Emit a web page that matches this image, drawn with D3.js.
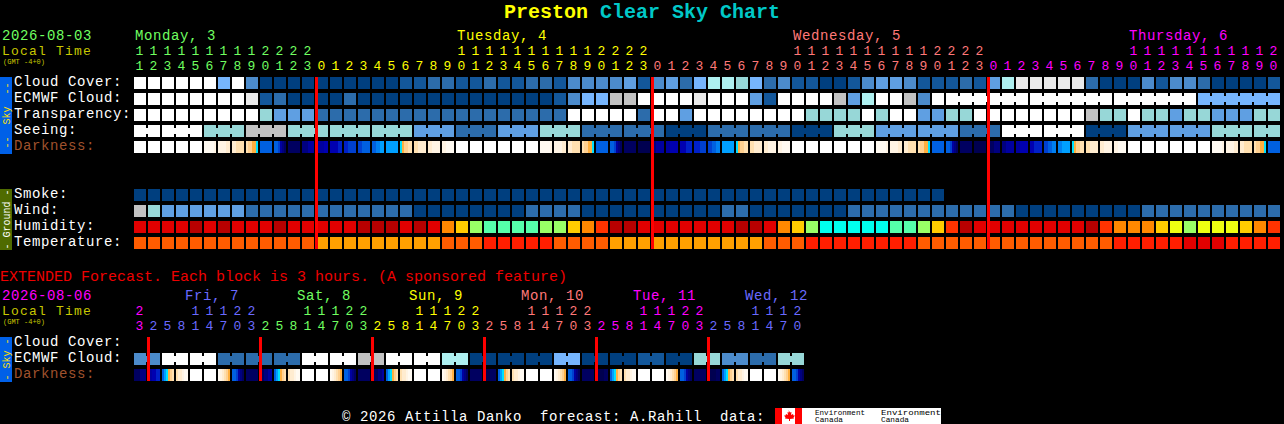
<!DOCTYPE html>
<html><head><meta charset="utf-8">
<script src="https://cdn.jsdelivr.net/npm/d3@7"></script>
<style>
html,body{margin:0;padding:0;background:#000;overflow:hidden}
svg{display:block}
text{font-family:"Liberation Mono",monospace;white-space:pre}
rect,.cell{shape-rendering:crispEdges}
</style></head><body>
<div id="chart"></div>
<script>
// ---------- hours shown on the hour axes ----------
const hoursMain = [11,12,13,14,15,16,17,18,19,20,21,22,23,
 0,1,2,3,4,5,6,7,8,9,10,11,12,13,14,15,16,17,18,19,20,21,22,23,
 0,1,2,3,4,5,6,7,8,9,10,11,12,13,14,15,16,17,18,19,20,21,22,23,
 0,1,2,3,4,5,6,7,8,9,10,11,12,13,14,15,16,17,18,19,20];
const dayMain = [0,0,0,0,0,0,0,0,0,0,0,0,0,
 1,1,1,1,1,1,1,1,1,1,1,1,1,1,1,1,1,1,1,1,1,1,1,1,
 2,2,2,2,2,2,2,2,2,2,2,2,2,2,2,2,2,2,2,2,2,2,2,2,
 3,3,3,3,3,3,3,3,3,3,3,3,3,3,3,3,3,3,3,3,3];
const hoursExt = [23, 2,5,8,11,14,17,20,23, 2,5,8,11,14,17,20,23, 2,5,8,11,14,17,20,23,
 2,5,8,11,14,17,20,23, 2,5,8,11,14,17,20,23, 2,5,8,11,14,17,20];
const dayExt = [3, 4,4,4,4,4,4,4,4, 0,0,0,0,0,0,0,0, 1,1,1,1,1,1,1,1,
 2,2,2,2,2,2,2,2, 3,3,3,3,3,3,3,3, 4,4,4,4,4,4,4];
const dayColors = ["#70ff60","#ffff00","#ff7878","#ff00ff","#6a6aff"];
const dayHeadMain = [["Monday, 3",0,0],["Tuesday, 4",23,1],["Wednesday, 5",47,2],["Thursday, 6",71,3]];
const dayHeadExt = [["Fri, 7",4,4],["Sat, 8",12,0],["Sun, 9",20,1],["Mon, 10",28,2],["Tue, 11",36,3],["Wed, 12",44,4]];
const midnightMain = [13,37,61];
const midnightExt = [1,9,17,25,33,41];

// ---------- sky levels: 0 = clear / best ... 10 = overcast / worst ----------
const skyColors = ["#003f7f","#13579a","#2c6cab","#4c8bcb","#5f9fe2","#76b5fd","#97d7d7","#aef0f0","#c2c2c2","#eaeaea","#ffffff"];

const cloudCover = [10,10,10,10,10,10,5,10,3,0,0,0,0,0,0,0,0,0,0,1,1,
 2,2,1,1,2,1,1,2,2,1,3,3,3,3,4,1,3,4,2,5,7,7,6,5,2,3,1,1,0,0,1,
 3,4,4,3,1,1,1,2,1,4,7,9,9,9,9,9,2,0,0,0,3,1,3,3,2,0,0,0,0,1];
const ecmwfCloud = [10,10,10,10,10,10,10,10,9,1,2,0,0,0,0,2,0,0,0,0,0,
 0,0,0,0,0,0,0,0,0,1,3,5,5,8,8,10,10,10,10,9,10,10,10,4,1,10,10,10,10,8,4,
 7,10,10,8,3,10,10,10,10,10,10,10,10,10,10,10,10,10,10,10,10,10,10,10,5,5,5,5,5,5];
const ecmwfSpans = [1,1,1,1,1,1,1,1,1,1,1,1,1,1,1,1,1,1,1,1,1,
 1,1,1,1,1,1,1,1,1,1,1,1,1,1,1,1,1,1,1,1,1,1,1,1,1,1,1,1,1,1,1,
 1,1,1,1,1,1,6,6,6,6];
const transparency = [10,10,10,10,10,10,10,10,10,6,4,4,4,2,2,2,2,2,2,2,2,
 2,2,2,2,2,2,2,2,2,2,10,10,10,10,10,2,10,10,4,10,10,10,10,10,10,10,10,6,6,6,6,
 10,6,10,10,4,4,6,6,10,10,10,10,10,10,10,10,8,6,6,10,6,6,4,6,6,4,4,4,6,6];
const seeing = [10,10,10,10,10,6,6,6,8,8,8,6,6,6,6,6,6,6,6,6,4,
 4,4,2,2,2,4,4,4,6,6,6,2,2,2,2,2,2,0,0,0,2,2,2,2,2,2,0,0,0,6,6,
 6,4,4,4,4,4,4,2,2,2,10,10,10,10,10,10,0,0,0,4,4,4,4,4,4,6,6,6,6,6];
const seeingSpans = [2,3,3,3,3,3,3,3,3,3,3,3,3,3,3,3,3,3,3,3,3,3,3,3,3,3,3,2];

const darknessColors = {w:"#ffffff",a:"#fffaf2",b:"#fff4e4",c:"#ffecd0",d:"#ffe0b0",e:"#ffd090",f:"#ffb040",
 g:"#00e0ff",h:"#00a0ff",i:"#0080f0",j:"#0060e0",k:"#0040d0",l:"#0020c8",m:"#0000b0",n:"#0000a0",
 o:"#000080",p:"#000060",q:"#000050"};
const W = "wwwwww";
const darkness = [W,W,W,W,W,"aaaaab","bbbbcc","ccdddd","deeffg","jjjjjj","jjknop","pppppp","ooonnn",
 "nnnnmm","mmmmll","llkkkk","kkjjjj","jjiihh","hhhhhh","gfeedd","ddcccc","ccbbbb","bbaaaa",W,W,W,W,W,W,
 "aaaaab","bbbbcc","ccdddd","deeffg","jjjjjj","jjknop","pppppp","qqqqqq",
 "oonnnn","nnmmmm","mmmlll","lllkkk","kkjjii","hhhhhh","gfeedd","ddcccc","ccbbbb","bbaaaa",W,W,W,W,W,W,
 "aaaaab","bbbbcc","ccdddd","deeffg","jjjjjj","jjknop","pppppp","qqqqqq",
 "pppooo","oonnnn","nnmmmm","mmllll","kkjjii","iihhhh","gfeedd","ddcccc","ccbbbb","bbaaaa",W,W,W,W,W,W,
 "aaaaab","bbbbcc","ccdddd","deeffg","jjjjjj"];

const smoke = [0,0,0,0,0,0,0,0,0,0,0,0,0,0,0,0,0,0,0,0,0,0,0,0,0,0,0,0,0,
 0,0,0,0,0,0,0,0,0,0,0,0,0,0,0,0,0,0,0,0,0,0,0,0,0,0,0,0,0];
const wind = [8,6,4,4,4,4,4,4,2,2,2,2,2,2,2,2,2,2,2,2,0,
 0,0,0,0,0,0,0,2,2,2,2,0,0,0,0,0,0,0,0,0,0,2,2,0,0,0,0,0,0,0,2,
 2,2,2,2,2,2,2,2,2,2,2,0,0,0,0,0,0,0,0,0,2,2,2,2,2,2,2,2,2,2];

const humidityColors = {K:"#b80000",R:"#e20000",T:"#ff3300",O:"#ff8800",Y:"#ffcc00",L:"#eeff11",G:"#99ff66",S:"#55ffaa",C:"#00ffee"};
const humidity = ["R","R","R","R","K","R","K","R","R","R","K","R","R","R","R","R","K","K","K","R","K",
 "R","O","Y","G","S","S","S","S","G","G","Y","O","T","K","K","R","R","R","R","R","R","R","K","K","R","O","Y","G","C","C","C",
 "C","C","S","S","G","Y","T","K","R","R","R","R","R","R","R","R","K","T","O","O","O","Y","L","G","L","L","L","Y","O","T"];
const temperatureColors = {A:"#ffa000",F:"#ff5c00",H:"#ff1e00",R:"#e20000"};
const temperature = ["F","F","F","F","F","F","F","F","F","F","F","F","F","A","A","A","A","A","A","A","A",
 "A","F","F","F","H","H","H","H","H","F","F","F","F","A","A","A","A","A","A","A","A","A","A","A","F","F","F","H","H","H","H",
 "H","H","H","H","F","F","F","F","F","F","F","F","F","F","F","F","F","F","H","H","H","H","H","R","R","R","H","H","H","H"];

const ecmwfExt = [3,3,10,10,10,10,2,2,2,2,2,2,10,10,10,10,8,8,10,10,10,10,7,7,
 0,0,0,0,0,0,5,5,0,0,0,0,1,1,0,0,6,6,3,3,2,2,6,6];
const ecmwfExtSpans = [2,2,2,2,2,2,2,2,2,2,2,2,2,2,2,2,2,2,2,2,2,2,2,2];
const J="jhgfed", D="dccbaa", O="abcdef", B="jjknop", N="pppppp";
const darknessExt = ["pppooo","nnmmll",J,D,W,W,O,B,N,"ppoonn",J,D,W,W,O,B,N,"qppoon",J,D,W,W,O,B,
 N,"qqqppp",J,D,W,W,O,B,N,"qqqqpp",J,D,W,W,O,B,N,"qqqqpp",J,D,W,W,O,B];

const skyRows = ["Cloud Cover:","ECMWF Cloud:","Transparency:","Seeing:","Darkness:"];
const groundRows = ["Smoke:","Wind:","Humidity:","Temperature:"];
const extRows = ["Cloud Cover:","ECMWF Cloud:","Darkness:"];

// ---------- scales ----------
const x = d3.scaleBand().domain(d3.range(hoursMain.length)).range([134,1280]).paddingInner(2/14);
const xe = d3.scaleBand().domain(d3.range(hoursExt.length)).range([134,804]).paddingInner(2/14);
const ySky = d3.scaleBand().domain(skyRows).range([77,153]).paddingInner(4/16);
const yGround = d3.scaleBand().domain(groundRows).range([189,249]).paddingInner(4/16);
const yExt = d3.scaleBand().domain(extRows).range([337,381]).paddingInner(4/16);
const sky = d3.scaleOrdinal().domain(d3.range(11)).range(skyColors);

const svg = d3.select("#chart").append("svg").attr("width",1284).attr("height",424).style("background","#000");

function txt(s,px,py,fill,size,extra){
  const t = svg.append("text").attr("x",px).attr("y",py).attr("fill",fill).attr("font-size",size||15).text(s);
  if(extra) extra(t);
  return t;
}
function row(vals,xs,y,cy,color){
  svg.append("g").attr("class","cell").selectAll("rect").data(vals).join("rect")
    .attr("x",(d,i)=>xs(i)).attr("y",y(cy)).attr("width",xs.bandwidth()).attr("height",y.bandwidth())
    .attr("fill",color);
}
function bridges(vals,spans,xs,y,cy,color){
  const pairs=[]; let start=0;
  spans.forEach(s=>{ for(let k=start;k<start+s-1;k++) pairs.push(k); start+=s; });
  svg.append("g").attr("class","cell").selectAll("rect").data(pairs).join("rect")
    .attr("x",k=>xs(k)+xs.bandwidth()).attr("y",y(cy)+3)
    .attr("width",xs.step()-xs.bandwidth()).attr("height",y.bandwidth()-6)
    .attr("fill",k=>color(vals[k]));
}
function strips(vals,xs,y,cy){
  const g = svg.append("g").attr("class","cell").selectAll("g").data(vals).join("g");
  const sub = d3.scaleBand().domain(d3.range(6)).range([0,xs.bandwidth()]);
  g.each(function(d,i){
    d3.select(this).selectAll("rect").data(d.split("")).join("rect")
      .attr("x",(c,j)=>xs(i)+sub(j)).attr("y",y(cy)).attr("width",sub.bandwidth()).attr("height",y.bandwidth())
      .attr("fill",c=>darknessColors[c]);
  });
}
function hourAxis(xs,hours,days,yTens,yUnits){
  const units = d3.axisTop(xs).tickSize(0).tickPadding(0).offset(0).tickFormat(i=>String(hours[i]%10));
  const tens = d3.axisTop(xs).tickSize(0).tickPadding(0).offset(0)
    .tickValues(xs.domain().filter(i=>hours[i]>=10)).tickFormat(i=>String(Math.floor(hours[i]/10)));
  [[units,yUnits],[tens,yTens]].forEach(([a,yy])=>{
    const g = svg.append("g").attr("transform",`translate(-0.5,${yy})`).call(a);
    g.select(".domain").remove();
    g.attr("font-family",null).attr("font-size",null);
    g.selectAll("text").attr("y",0).attr("dy",0).attr("font-size",13).attr("text-anchor","middle")
      .attr("fill",i=>dayColors[days[i]]);
  });
}
function sideBar(y0,y1,fill,label,color){
  svg.append("rect").attr("x",0).attr("y",y0).attr("width",12).attr("height",y1-y0).attr("fill",fill);
  const m=(y0+y1)/2;
  svg.append("text").attr("transform",`translate(9.5,${m}) rotate(-90)`).attr("text-anchor","middle")
    .attr("font-size",10).attr("fill",color).text(label);
}

// ---------- title ----------
txt("Preston",504,18,"#ffff00",20).attr("font-weight","bold");
txt("Clear Sky Chart",600,18,"#00c8c8",20).attr("font-weight","bold");

// ---------- main header ----------
txt("2026-08-03",2,40,dayColors[0],14).attr("letter-spacing",0.6);
txt("Local Time",2,55,"#c8c800",13).attr("letter-spacing",1.2);
txt("(GMT -4+0)",3,64,"#c8c800",7);
dayHeadMain.forEach(([s,i,c])=>txt(s,x(i)+1,40,dayColors[c],14).attr("letter-spacing",0.6));
hourAxis(x,hoursMain,dayMain,55,70);

// ---------- main rows ----------
sideBar(77,154,"#0060e8","--  Sky  --","#ffe000");
sideBar(189,250,"#4f6b00","- Ground -","#ffffff");
skyRows.forEach(l=>txt(l,14,ySky(l)+9,l==="Darkness:"?"#a0522d":"#ffffff",14).attr("letter-spacing",0.6));
groundRows.forEach(l=>txt(l,14,yGround(l)+9,"#ffffff",14).attr("letter-spacing",0.6));

row(cloudCover,x,ySky,"Cloud Cover:",sky);
row(ecmwfCloud,x,ySky,"ECMWF Cloud:",sky);
bridges(ecmwfCloud,ecmwfSpans,x,ySky,"ECMWF Cloud:",sky);
row(transparency,x,ySky,"Transparency:",sky);
row(seeing,x,ySky,"Seeing:",sky);
bridges(seeing,seeingSpans,x,ySky,"Seeing:",sky);
strips(darkness,x,ySky,"Darkness:");
row(smoke,x,yGround,"Smoke:",sky);
row(wind,x,yGround,"Wind:",sky);
row(humidity,x,yGround,"Humidity:",d=>humidityColors[d]);
row(temperature,x,yGround,"Temperature:",d=>temperatureColors[d]);

svg.append("g").selectAll("rect").data(midnightMain).join("rect")
  .attr("x",i=>Math.round(x(i))-1).attr("y",77).attr("width",3).attr("height",172).attr("fill","#ff0000");

// ---------- extended ----------
txt("EXTENDED Forecast. Each block is 3 hours. (A sponsored feature)",0,281,"#ee0000",15);
txt("2026-08-06",2,300,dayColors[3],14).attr("letter-spacing",0.6);
txt("Local Time",2,315,"#c8c800",13).attr("letter-spacing",1.2);
txt("(GMT -4+0)",3,324,"#c8c800",7);
dayHeadExt.forEach(([s,i,c])=>txt(s,xe(i)-5,300,dayColors[c],14).attr("letter-spacing",0.6));
hourAxis(xe,hoursExt,dayExt,315,330);
sideBar(337,382,"#0060e8","- Sky -","#ffe000");
extRows.forEach(l=>txt(l,14,yExt(l)+9,l==="Darkness:"?"#a0522d":"#ffffff",14).attr("letter-spacing",0.6));
row(ecmwfExt,xe,yExt,"ECMWF Cloud:",sky);
bridges(ecmwfExt,ecmwfExtSpans,xe,yExt,"ECMWF Cloud:",sky);
strips(darknessExt,xe,yExt,"Darkness:");
svg.append("g").selectAll("rect").data(midnightExt).join("rect")
  .attr("x",i=>Math.round(xe(i))-1).attr("y",337).attr("width",3).attr("height",44).attr("fill","#ff0000");

// ---------- footer ----------
txt("\u00a9 2026 Attilla Danko  forecast: A.Rahill  data:",342,420.5,"#ffffff",14).attr("letter-spacing",0.6);
svg.append("rect").attr("x",775).attr("y",408).attr("width",166).attr("height",16).attr("fill","#fff");
svg.append("rect").attr("x",775).attr("y",408).attr("width",7).attr("height",16).attr("fill","#ff0000");
svg.append("rect").attr("x",795).attr("y",408).attr("width",7).attr("height",16).attr("fill","#ff0000");
svg.append("path").attr("fill","#ff0000")
  .attr("d","M788.5 410l1.5 2.5 1.5-.5-.5 3 2-1 .5 1.5 1.5 0-1.5 2 .5 1-4 .5v2h-1v-2l-4-.5.5-1-1.5-2 1.5 0 .5-1.5 2 1-.5-3 1.5.5z");
[[815,50],[881,60]].forEach(([px,w])=>{
  svg.append("text").attr("x",px).attr("y",415).attr("font-size",7).attr("fill","#000")
    .attr("textLength",w).attr("lengthAdjust","spacingAndGlyphs").text("Environment");
  svg.append("text").attr("x",px).attr("y",422).attr("font-size",7).attr("fill","#000")
    .attr("textLength",28).attr("lengthAdjust","spacingAndGlyphs").text("Canada");
});
</script>
</body></html>
